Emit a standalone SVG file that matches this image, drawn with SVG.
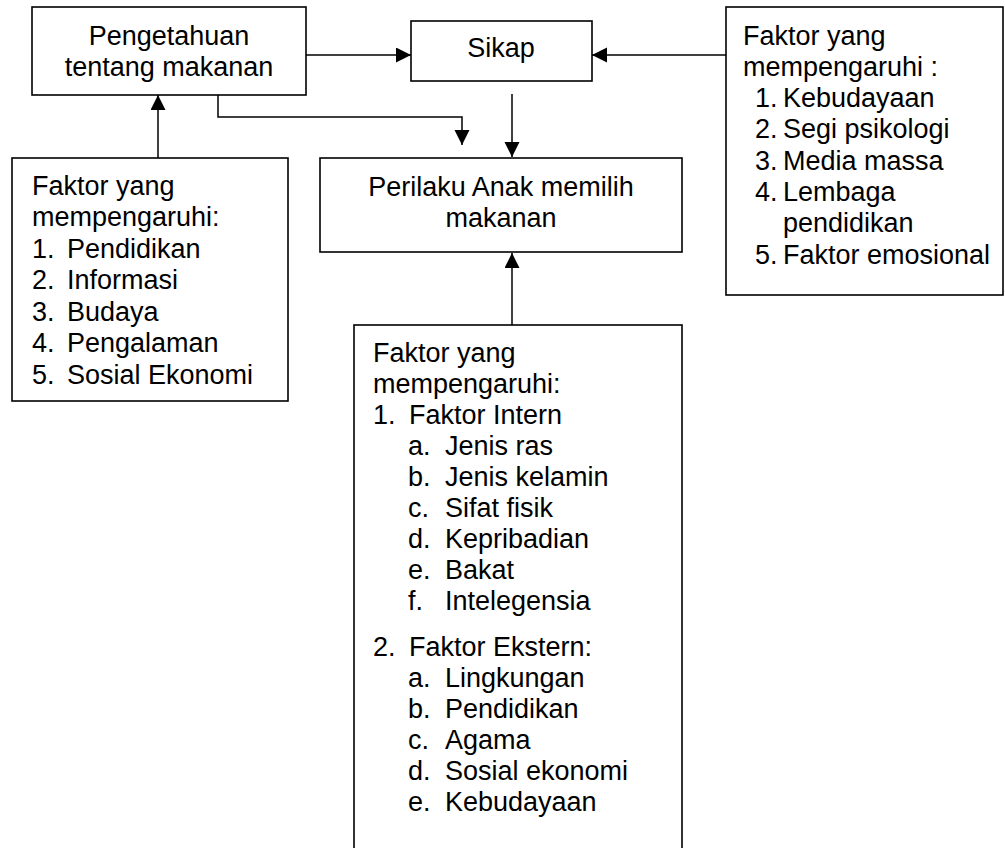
<svg xmlns="http://www.w3.org/2000/svg" width="1005" height="848" viewBox="0 0 1005 848">
<style>
.box{fill:#fff;stroke:#000;stroke-width:1.6}
.t{font-family:"Liberation Sans",Arial,sans-serif;font-size:27px;fill:#000}
.c{text-anchor:middle}
.ln{fill:none;stroke:#000;stroke-width:1.5}
</style>
<defs>
<marker id="ah" markerUnits="userSpaceOnUse" markerWidth="16" markerHeight="16" refX="15" refY="7.5" orient="auto">
<path d="M0,0 L15,7.5 L0,15 z" fill="#000"/>
</marker>
</defs>
<rect width="1005" height="848" fill="#fff"/>
<g id="connectors">
<path class="ln" d="M306,55 H411" marker-end="url(#ah)"/>
<path class="ln" d="M726,55 H592" marker-end="url(#ah)"/>
<path class="ln" d="M218,95 V117 H462 V145" marker-end="url(#ah)"/>
<path class="ln" d="M512,94 V157" marker-end="url(#ah)"/>
<path class="ln" d="M158,158 V95" marker-end="url(#ah)"/>
<path class="ln" d="M512,325 V253" marker-end="url(#ah)"/>
</g>
<g id="pengetahuan">
<rect class="box" x="32" y="7" width="274" height="88"/>
<text class="t c" x="169" y="45">Pengetahuan</text>
<text class="t c" x="169" y="76">tentang makanan</text>
</g>
<g id="sikap">
<rect class="box" x="411" y="21" width="181" height="60"/>
<text class="t c" x="501" y="57">Sikap</text>
</g>
<g id="faktor-sikap">
<rect class="box" x="726" y="7" width="277" height="288"/>
<text class="t" x="743" y="45">Faktor yang</text>
<text class="t" x="743" y="76">mempengaruhi :</text>
<text class="t" x="755" y="107">1.</text><text class="t" x="783" y="107">Kebudayaan</text>
<text class="t" x="755" y="138">2.</text><text class="t" x="783" y="138">Segi psikologi</text>
<text class="t" x="755" y="170">3.</text><text class="t" x="783" y="170">Media massa</text>
<text class="t" x="755" y="201">4.</text><text class="t" x="783" y="201">Lembaga</text>
<text class="t" x="783" y="232">pendidikan</text>
<text class="t" x="755" y="264">5.</text><text class="t" x="783" y="264">Faktor emosional</text>
</g>
<g id="perilaku">
<rect class="box" x="320" y="158" width="362" height="94"/>
<text class="t c" x="501" y="196">Perilaku Anak memilih</text>
<text class="t c" x="501" y="227">makanan</text>
</g>
<g id="faktor-pengetahuan">
<rect class="box" x="12" y="158" width="276" height="243"/>
<text class="t" x="32" y="195">Faktor yang</text>
<text class="t" x="32" y="226">mempengaruhi:</text>
<text class="t" x="32" y="258">1.</text><text class="t" x="67" y="258">Pendidikan</text>
<text class="t" x="32" y="289">2.</text><text class="t" x="67" y="289">Informasi</text>
<text class="t" x="32" y="321">3.</text><text class="t" x="67" y="321">Budaya</text>
<text class="t" x="32" y="352">4.</text><text class="t" x="67" y="352">Pengalaman</text>
<text class="t" x="32" y="384">5.</text><text class="t" x="67" y="384">Sosial Ekonomi</text>
</g>
<g id="faktor-perilaku">
<rect class="box" x="354" y="325" width="328" height="560"/>
<text class="t" x="373" y="362">Faktor yang</text>
<text class="t" x="373" y="393">mempengaruhi:</text>
<text class="t" x="373" y="424">1.</text><text class="t" x="409" y="424">Faktor Intern</text>
<text class="t" x="408" y="455">a.</text><text class="t" x="445" y="455">Jenis ras</text>
<text class="t" x="408" y="486">b.</text><text class="t" x="445" y="486">Jenis kelamin</text>
<text class="t" x="408" y="517">c.</text><text class="t" x="445" y="517">Sifat fisik</text>
<text class="t" x="408" y="548">d.</text><text class="t" x="445" y="548">Kepribadian</text>
<text class="t" x="408" y="579">e.</text><text class="t" x="445" y="579">Bakat</text>
<text class="t" x="408" y="610">f.</text><text class="t" x="445" y="610">Intelegensia</text>
<text class="t" x="373" y="656">2.</text><text class="t" x="409" y="656">Faktor Ekstern:</text>
<text class="t" x="408" y="687">a.</text><text class="t" x="445" y="687">Lingkungan</text>
<text class="t" x="408" y="718">b.</text><text class="t" x="445" y="718">Pendidikan</text>
<text class="t" x="408" y="749">c.</text><text class="t" x="445" y="749">Agama</text>
<text class="t" x="408" y="780">d.</text><text class="t" x="445" y="780">Sosial ekonomi</text>
<text class="t" x="408" y="811">e.</text><text class="t" x="445" y="811">Kebudayaan</text>
</g>
</svg>
